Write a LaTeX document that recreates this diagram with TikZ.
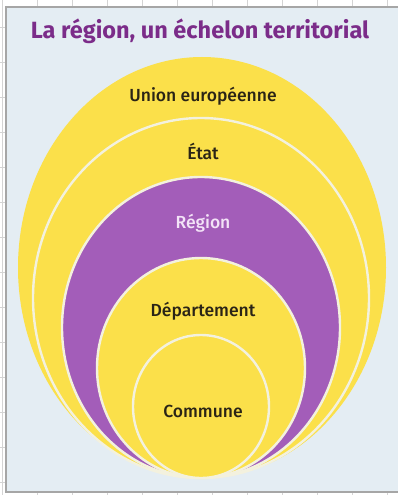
\documentclass[tikz,border=0pt]{standalone}
\usepackage{fontspec}
\setmainfont{Fira Sans}
\newfontfamily\labfont{Fira Sans Medium}
\begin{document}
\begin{tikzpicture}[x=1pt,y=-1pt,
  ring/.style={draw=ringline, line width=2.4pt},
  lab/.style={text=labtext, font=\labfont\fontsize{17.5}{20}\selectfont, inner sep=0pt}]
\definecolor{yel}{HTML}{FBE04A}
\definecolor{pur}{HTML}{A35DB9}
\definecolor{ringline}{HTML}{F3F1DE}
\definecolor{panel}{HTML}{E4EDF3}
\definecolor{titlec}{HTML}{7B2C89}
\definecolor{labtext}{HTML}{2A2416}
\definecolor{reglab}{HTML}{F3E3F7}
\definecolor{gridc}{HTML}{D4D4D4}
\useasboundingbox (0,0) rectangle (398,495);
\fill[white] (0,0) rectangle (398,495);
\foreach \x in {2,37,...,387} \draw[gridc, line width=0.8pt] (\x,0) -- (\x,495);
\foreach \y in {27,62,...,495} \draw[gridc, line width=0.8pt] (0,\y) -- (398,\y);
\draw[fill=panel, draw=gray!70, line width=1.5pt] (6,7) rectangle (400,492);
% nested ellipses, all tangent at the bottom
\fill[yel] (202,267.5) ellipse [x radius=184, y radius=210.5];
\draw[ring, fill=yel] (201,298) ellipse [x radius=168, y radius=180];
\draw[ring, fill=pur] (201,327.5) ellipse [x radius=139, y radius=150.5];
\draw[ring, fill=yel] (201,368) ellipse [x radius=104, y radius=110];
\draw[ring, fill=yel] (201,406.5) ellipse [x radius=68, y radius=71.5];
\node[text=titlec, font=\bfseries\fontsize{23.5}{26}\selectfont, inner sep=0pt] (title) at (200,31) {La région, un échelon territorial};
\node[lab] (ue) at (203,96) {Union européenne};
\node[lab] (etat) at (203,151) {État};
\node[lab, text=reglab] (region) at (203,223) {Région};
\node[lab] (dep) at (203,311) {Département};
\node[lab] (commune) at (203,411) {Commune};
\end{tikzpicture}
\end{document}
